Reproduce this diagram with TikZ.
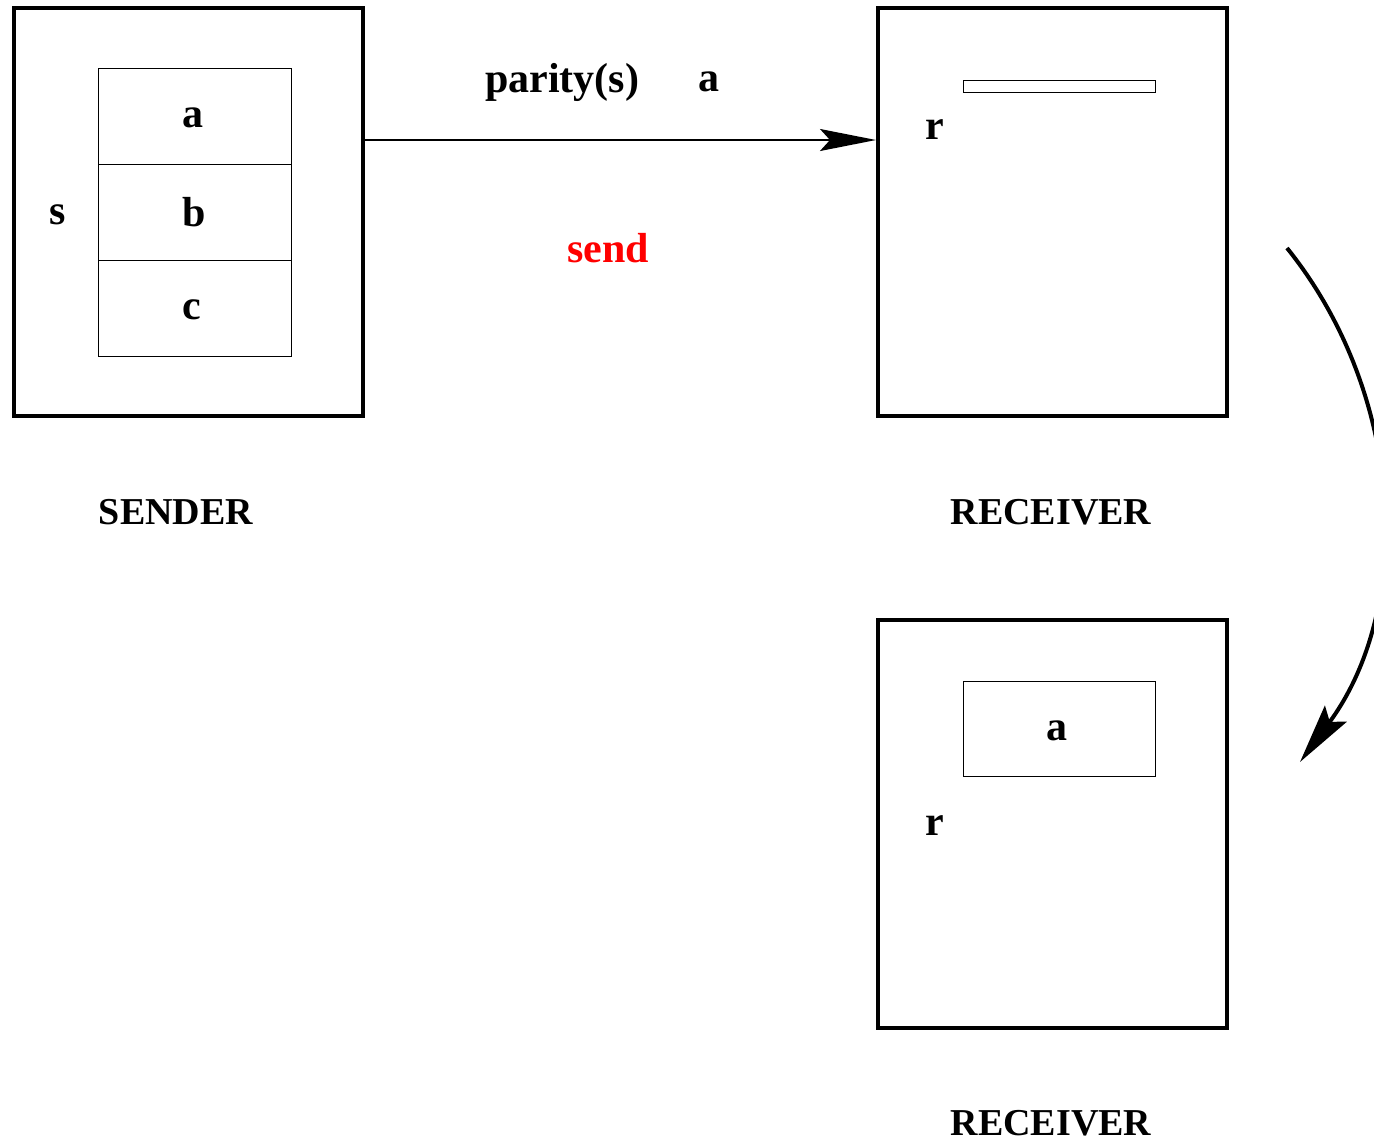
\documentclass[tikz,border=0pt]{standalone}
\usepackage{fontspec}
\setmainfont{Liberation Serif}
\usetikzlibrary{arrows.meta}
\begin{document}
\begin{tikzpicture}[x=0.5pt,y=-0.5pt,
  outerbox/.style={draw,line width=2pt},
  cellbox/.style={draw,line width=0.5pt},
  lbl/.style={font=\bfseries\fontsize{21}{25}\selectfont,inner sep=0pt},
  captxt/.style={font=\bfseries\fontsize{19}{23}\selectfont,inner sep=0pt},
  arrtip/.style={-{Stealth[length=28pt,width=11pt,inset=5pt]}},
  bigtip/.style={-{Stealth[length=30pt,width=13.5pt,inset=5pt]}}]
\useasboundingbox (0,0) rectangle (1374,1142);
\clip (0,0) rectangle (1374,1142);
% sender
\draw[outerbox] (14,8) rectangle (363,416);
\node[cellbox,minimum width=96.5pt,minimum height=48pt,inner sep=0pt] (ca) at (194.5,116) {};
\node[cellbox,minimum width=96.5pt,minimum height=48pt,inner sep=0pt] (cb) at (194.5,212) {};
\node[cellbox,minimum width=96.5pt,minimum height=48pt,inner sep=0pt] (cc) at (194.5,308) {};
\node[lbl] (ta) at (193,118) {a};
\node[lbl] (tb) at (194,212) {b};
\node[lbl] (tc) at (192,310) {c};
\node[lbl] (ts) at (58,215) {s};
\node[captxt] (sendercap) at (176,512) {SENDER};
% receiver 1
\node[outerbox,inner sep=0pt,minimum width=174.5pt,minimum height=204pt] (recv) at (1052.5,212) {};
\draw[cellbox] (963,80) rectangle (1155,92);
\node[lbl] (r1) at (935,130) {r};
\node[captxt] (recvcap) at (1051,512) {RECEIVER};
% receiver 2
\node[outerbox,inner sep=0pt,minimum width=174.5pt,minimum height=204pt] (recvb) at (1052.5,824) {};
\node[cellbox,minimum width=96pt,minimum height=47.5pt,inner sep=0pt] (boxa) at (1059,728.5) {};
\node[lbl] (ta2) at (1057,731) {a};
\node[lbl] (r2) at (935,826) {r};
\node[captxt] (recvcapb) at (1051,1123) {RECEIVER};
% message arrow
\coordinate (mstart) at (363,140);
\draw[arrtip,line width=1pt] (mstart) -- (recv.west |- mstart);
\node[lbl] (par) at (562,82) {parity(s)};
\node[lbl] (pa) at (709,82) {a};
\node[lbl,text={rgb,255:red,255;green,0;blue,0}] (send) at (608,248) {send};
% curved arrow
\coordinate (cs) at (1287,248);
\coordinate (ce) at (1300,762);
\draw[bigtip,line width=2pt] (cs) .. controls (1406,396) and (1414,608) .. (ce);
\end{tikzpicture}
\end{document}
